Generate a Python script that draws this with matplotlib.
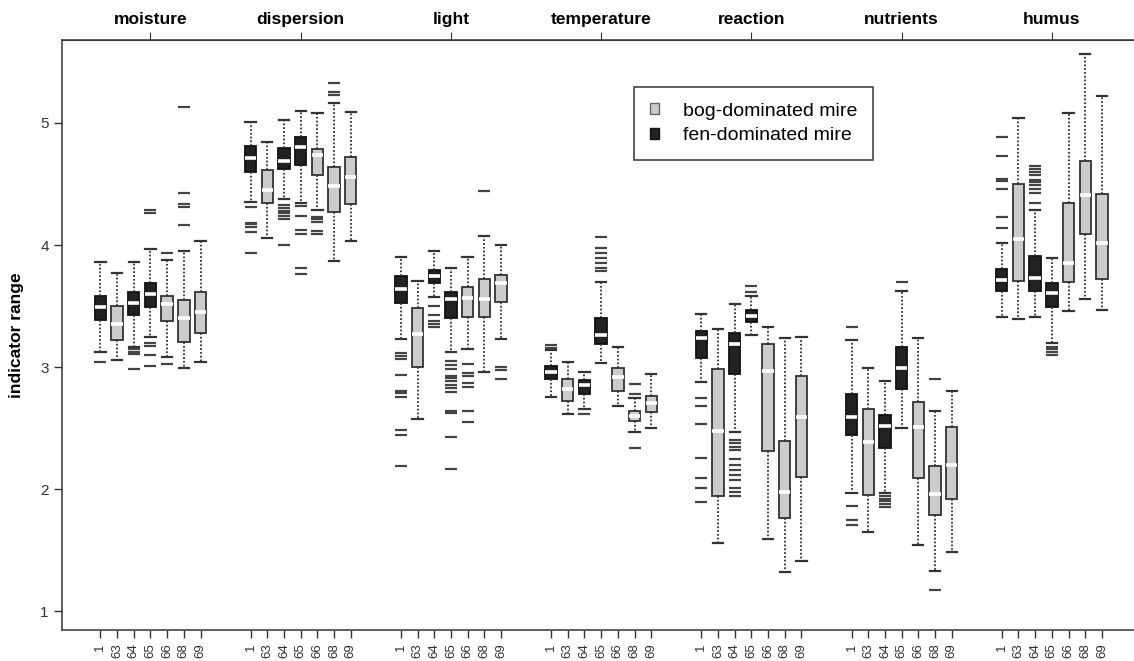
import matplotlib
matplotlib.use("Agg")
import matplotlib.pyplot as plt
from matplotlib.patches import Patch

plt.rcParams["font.family"] = ["Liberation Sans", "DejaVu Sans"]

# indicator groups (top axis) and sites (bottom axis)
groups = ["moisture", "dispersion", "light", "temperature", "reaction", "nutrients", "humus"]
sites = ["1", "63", "64", "65", "66", "68", "69"]
site_type = ["fen", "bog", "fen", "fen", "bog", "bog", "bog"]

# box statistics, one row per group, one column per site
whislo = [
    [3.12, 3.057, 3.161, 3.243, 3.079, 2.994, 3.041],
    [4.352, 4.055, 4.374, 4.341, 4.287, 3.869, 4.033],
    [3.227, 2.572, 3.571, 3.12, 3.145, 2.956, 3.227],
    [2.754, 2.615, 2.656, 3.033, 2.683, 2.465, 2.503],
    [2.88, 1.561, 2.464, 3.262, 1.594, 1.322, 1.41],
    [1.965, 1.65, 1.965, 2.497, 1.541, 1.33, 1.486],
    [3.413, 3.396, 3.413, 3.194, 3.459, 3.555, 3.467],
]
q1 = [
    [3.385, 3.221, 3.424, 3.492, 3.38, 3.207, 3.276],
    [4.601, 4.341, 4.62, 4.653, 4.576, 4.268, 4.336],
    [3.525, 3.003, 3.691, 3.399, 3.412, 3.412, 3.533],
    [2.902, 2.721, 2.776, 3.186, 2.8, 2.56, 2.631],
    [3.077, 1.945, 2.94, 3.369, 2.314, 1.76, 2.101],
    [2.443, 1.951, 2.339, 2.817, 2.093, 1.787, 1.915],
    [3.626, 3.708, 3.626, 3.494, 3.694, 4.09, 3.721],
]
med = [
    [3.494, 3.35, 3.522, 3.596, 3.516, 3.404, 3.448],
    [4.716, 4.451, 4.691, 4.80, 4.738, 4.484, 4.56],
    [3.639, 3.27, 3.748, 3.555, 3.563, 3.555, 3.686],
    [2.956, 2.82, 2.852, 3.262, 2.915, 2.601, 2.702],
    [3.238, 2.478, 3.189, 3.42, 2.967, 1.978, 2.588],
    [2.588, 2.383, 2.519, 2.995, 2.511, 1.956, 2.197],
    [3.713, 4.049, 3.727, 3.604, 3.855, 4.41, 4.014],
]
q3 = [
    [3.584, 3.5, 3.612, 3.689, 3.584, 3.552, 3.612],
    [4.811, 4.615, 4.792, 4.888, 4.784, 4.636, 4.724],
    [3.746, 3.481, 3.795, 3.617, 3.653, 3.721, 3.757],
    [3.01, 2.904, 2.89, 3.399, 2.989, 2.639, 2.76],
    [3.295, 2.98, 3.276, 3.464, 3.189, 2.393, 2.929],
    [2.779, 2.656, 2.607, 3.161, 2.716, 2.189, 2.511],
    [3.806, 4.503, 3.91, 3.686, 4.347, 4.689, 4.418],
]
whishi = [
    [3.858, 3.773, 3.858, 3.965, 3.877, 3.951, 4.03],
    [5.006, 4.844, 5.025, 5.101, 5.08, 5.161, 5.09],
    [3.902, 3.707, 3.953, 3.809, 3.902, 4.076, 4.0],
    [3.139, 3.041, 2.956, 3.7, 3.164, 2.75, 2.94],
    [3.432, 3.311, 3.516, 3.584, 3.33, 3.24, 3.243],
    [3.221, 2.995, 2.888, 3.62, 3.235, 2.639, 2.803],
    [4.014, 5.038, 4.287, 3.891, 5.085, 5.566, 5.219],
]
fliers = [
    [[3.044], [], [3.145, 3.126, 3.107, 2.981], [4.287, 4.265, 3.194, 3.175, 3.096, 3.011],
     [3.934, 3.025], [5.134, 4.423, 4.336, 4.311, 4.164], []],
    [[4.309, 4.183, 4.17, 4.15, 4.109, 3.937], [], [4.328, 4.30, 4.279, 4.26, 4.238, 4.21, 4.0],
     [4.32, 4.238, 4.123, 4.09, 3.809, 3.76], [4.232, 4.21, 4.19, 4.117, 4.09], [5.325, 5.25, 5.232], []],
    [[3.112, 3.093, 3.063, 2.934, 2.806, 2.79, 2.751, 2.484, 2.44, 2.189], [], [3.5, 3.426, 3.38, 3.352, 3.33],
     [3.049, 3.016, 2.981, 2.926, 2.912, 2.888, 2.852, 2.83, 2.797, 2.639, 2.62, 2.424, 2.162],
     [3.025, 2.953, 2.926, 2.871, 2.838, 2.639, 2.549], [4.44], [3.002, 2.975, 2.9]],
    [[3.18, 3.16], [], [2.615], [4.066, 3.973, 3.932, 3.891, 3.85, 3.809, 3.784], [],
     [2.863, 2.776, 2.333], []],
    [[2.743, 2.683, 2.53, 2.251, 2.087, 2.005, 1.896], [],
     [2.402, 2.374, 2.347, 2.32, 2.249, 2.197, 2.156, 2.115, 2.074, 2.005, 1.978, 1.945],
     [3.664, 3.617], [], [], []],
    [[3.33, 1.861, 1.75, 1.708], [], [1.943, 1.921, 1.899, 1.877, 1.85], [3.7], [], [2.9, 1.172], []],
    [[4.885, 4.73, 4.544, 4.522, 4.462, 4.232, 4.142], [],
     [4.645, 4.623, 4.598, 4.576, 4.535, 4.516, 4.492, 4.462, 4.429, 4.342],
     [3.166, 3.145, 3.123, 3.101], [], [], []],
]

colors = {"fen": "#222222", "bog": "#cccccc"}
edges = {"fen": "#111111", "bog": "#333333"}

stats, positions, kinds = [], [], []
for g in range(len(groups)):
    for i in range(len(sites)):
        stats.append(dict(med=med[g][i], q1=q1[g][i], q3=q3[g][i],
                          whislo=whislo[g][i], whishi=whishi[g][i], fliers=fliers[g][i]))
        positions.append(9 * g + i + 1)
        kinds.append(site_type[i])
centers = [9 * g + 4 for g in range(len(groups))]

fig = plt.figure(figsize=(11.34, 6.61), dpi=100)
ax = fig.add_axes([62 / 1134, 1 - 630 / 661, 1100 / 1134, 590 / 661])

art = ax.bxp(stats, positions=positions, widths=0.68, capwidths=0.62, patch_artist=True,
             boxprops=dict(linewidth=1.3),
             medianprops=dict(color="white", linewidth=2.6),
             whiskerprops=dict(color="#333333", linewidth=1.3, linestyle=(0, (1, 1.1))),
             capprops=dict(color="#333333", linewidth=1.6),
             flierprops=dict(marker="_", markersize=8, markeredgewidth=1.6,
                             markeredgecolor="#444444", linestyle="none"))
for box, k in zip(art["boxes"], kinds):
    box.set_facecolor(colors[k])
    box.set_edgecolor(edges[k])

ax.set_xlim(-1.3, 64.6)
ax.set_ylim(0.845, 5.68)
ax.set_xticks(positions)
ax.set_xticklabels(sites * len(groups), rotation=90, fontsize=9.5, color="#333333")
ax.set_yticks([1, 2, 3, 4, 5])
ax.set_yticklabels(["1", "2", "3", "4", "5"], fontsize=11, color="#333333")
ax.tick_params(axis="both", direction="out", length=6, color="#333333", width=1)
ax.set_ylabel("indicator range", fontsize=12.5, fontweight="bold", labelpad=12)
ax.spines["right"].set_visible(False)
for s in ("left", "top", "bottom"):
    ax.spines[s].set_color("#444444")
    ax.spines[s].set_linewidth(1.2)

top = ax.secondary_xaxis("top")
top.set_xticks(centers)
top.set_xticklabels(groups, fontsize=12.5, fontweight="bold")
top.tick_params(direction="out", length=6, color="#333333", pad=3)

handles = [Patch(facecolor=colors["bog"], edgecolor="#666666", label="bog-dominated mire"),
           Patch(facecolor=colors["fen"], edgecolor="#111111", label="fen-dominated mire")]
leg = fig.legend(handles=handles, loc="upper left", bbox_to_anchor=(634 / 1134, 1 - 87 / 661),
                 fontsize=14, fancybox=False, edgecolor="#444444", framealpha=1,
                 handlelength=0.5, handleheight=0.5, handletextpad=1.2, borderpad=0.8,
                 labelspacing=0.4, borderaxespad=0)
leg.get_frame().set_linewidth(1.2)

fig.savefig("out.png", dpi=100)
